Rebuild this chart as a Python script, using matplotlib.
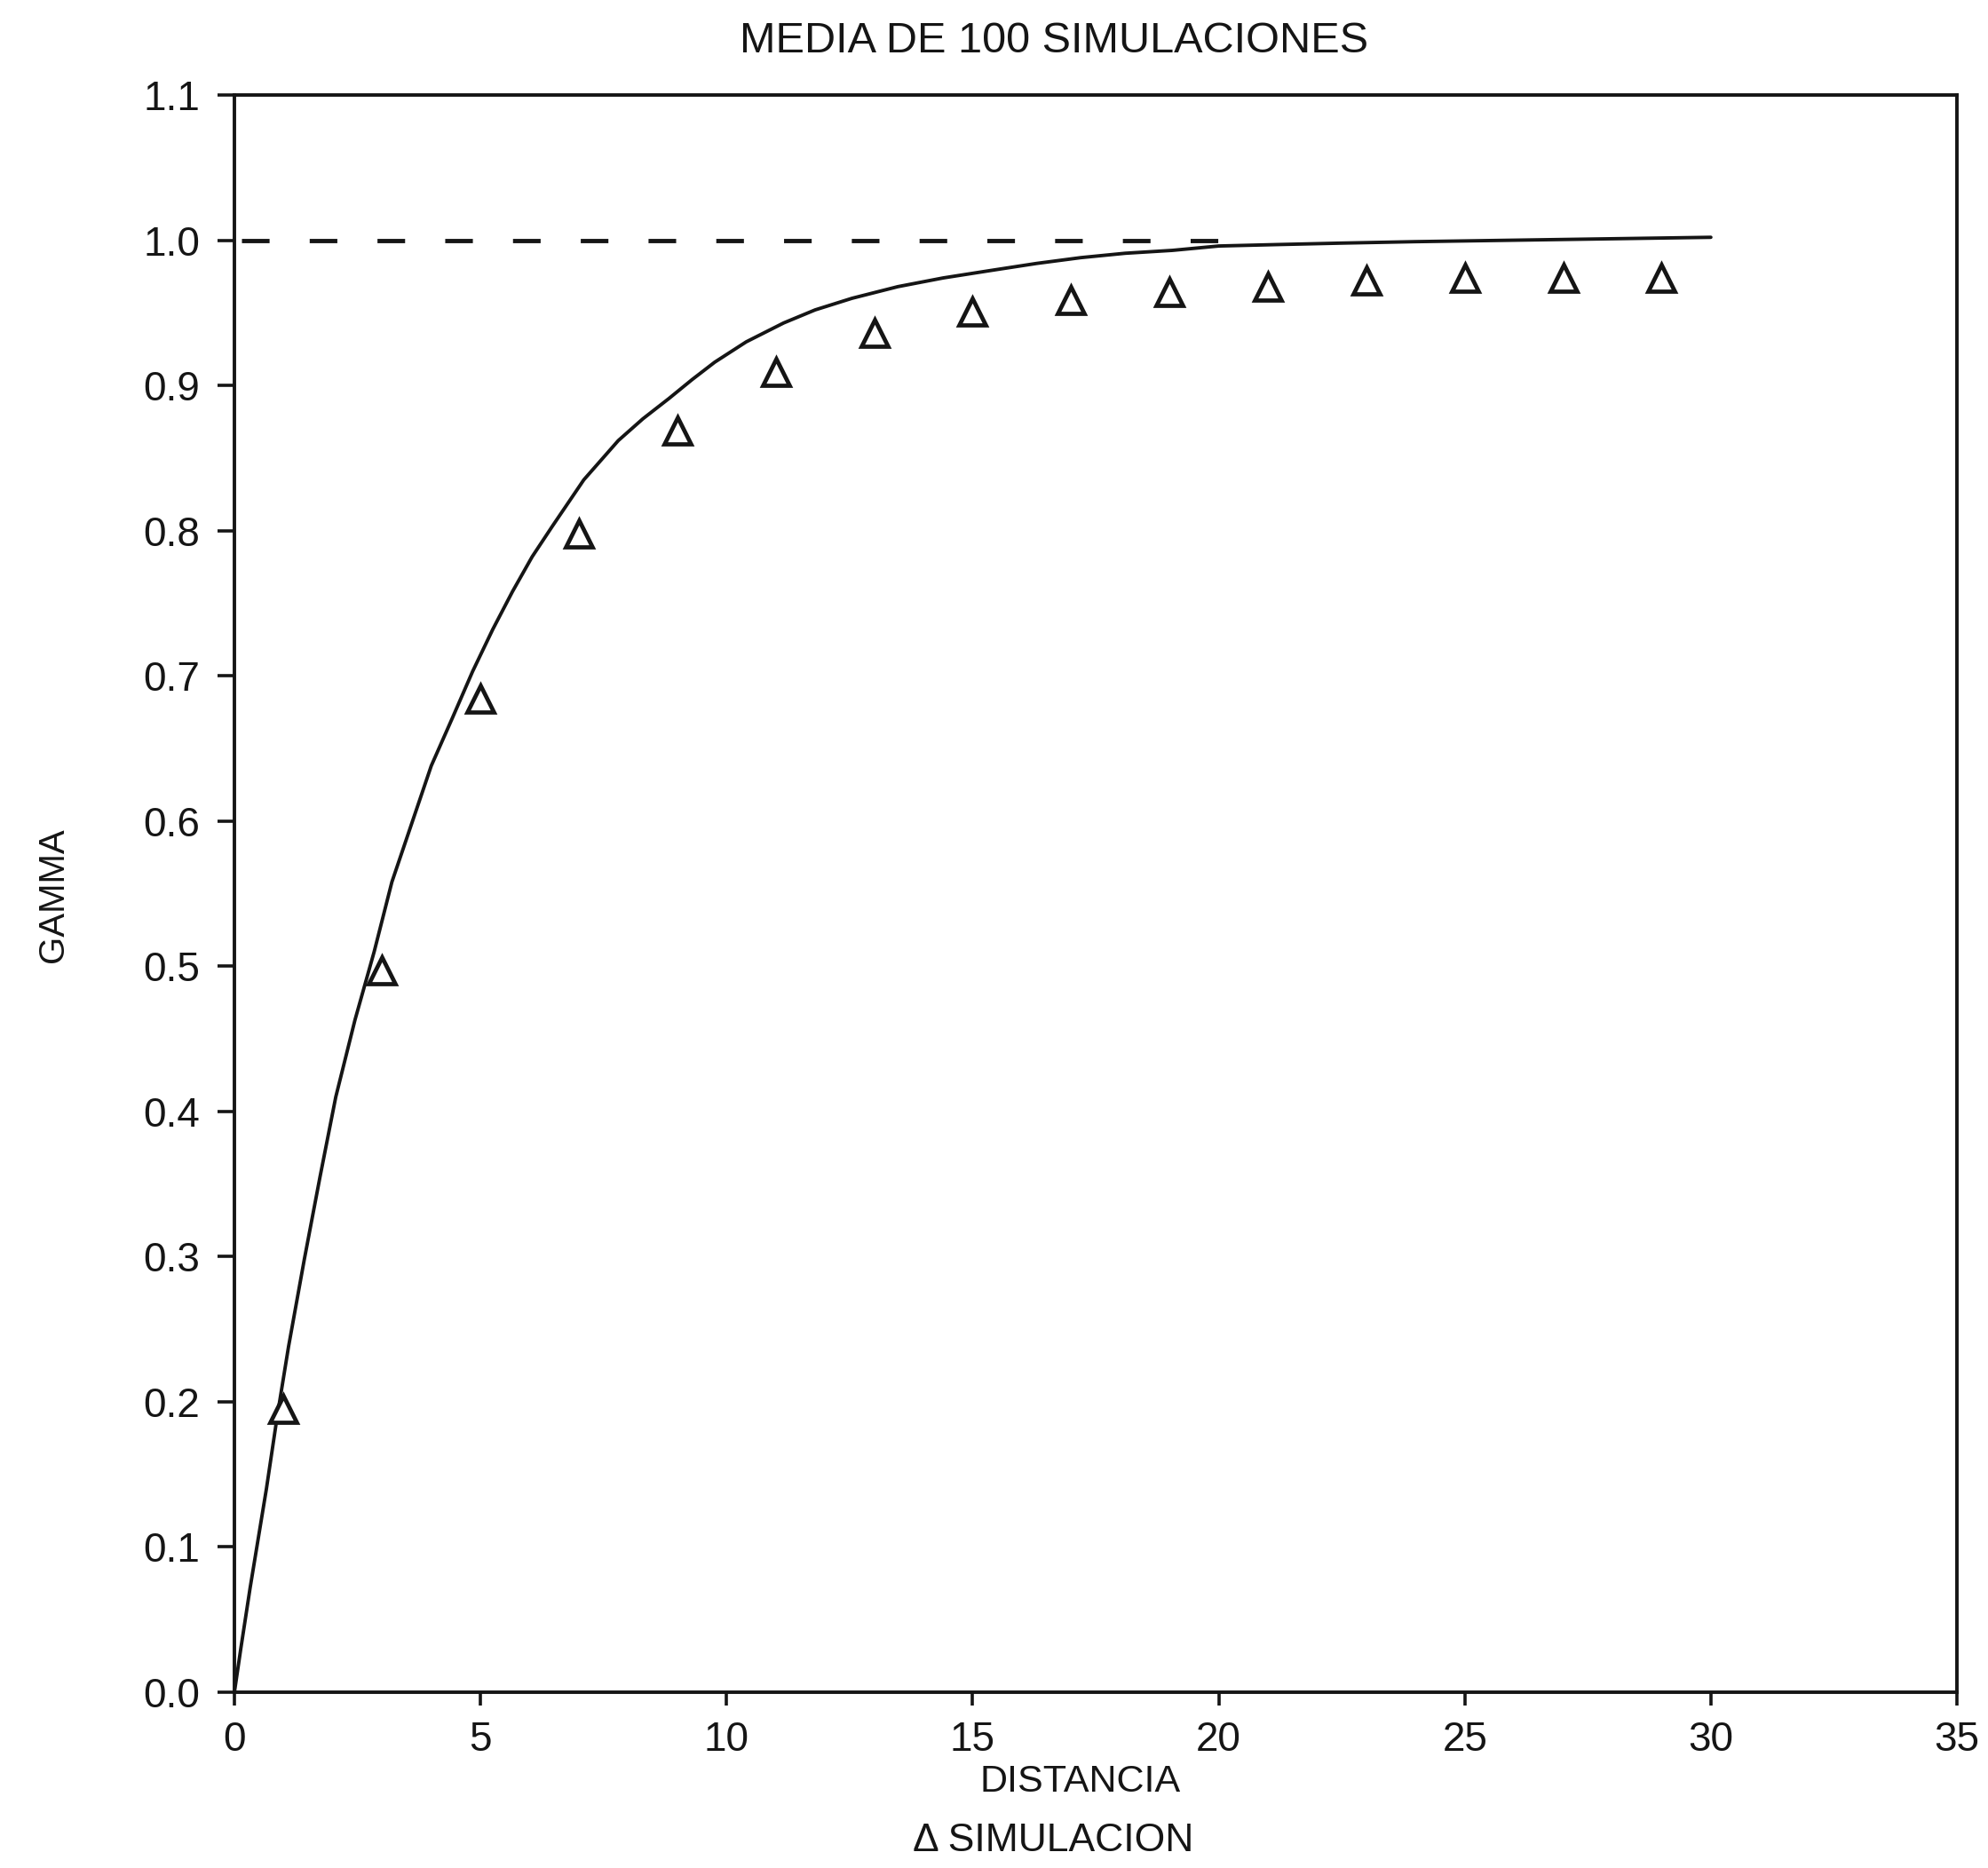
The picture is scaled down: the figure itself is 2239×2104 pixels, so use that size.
import matplotlib
matplotlib.use("Agg")
import matplotlib.pyplot as plt

# ---- data ----
sim_x = [1, 3, 5, 7, 9, 11, 13, 15, 17, 19, 21, 23, 25, 27, 29]
sim_y = [0.195, 0.497, 0.684, 0.798, 0.869, 0.909, 0.936, 0.951,
         0.959, 0.964, 0.968, 0.972, 0.974, 0.974, 0.974]

model_x = [0, 0.13, 0.32, 0.65, 0.87, 1.10, 1.42, 1.74, 2.06, 2.45, 2.84,
           3.2, 3.62, 4.0, 4.43, 4.84, 5.25, 5.65, 6.05, 6.46, 7.1, 7.8,
           8.3, 8.83, 9.3, 9.76, 10.4, 11.16, 11.8, 12.55, 13.48, 14.4,
           15.34, 16.3, 17.2, 18.1, 19.06, 20.0, 21.2, 22.5, 24.0, 26.0,
           28.0, 30.0]
model_y = [0, 0.03, 0.072, 0.14, 0.19, 0.238, 0.298, 0.355, 0.41, 0.463, 0.51,
           0.558, 0.60, 0.638, 0.671, 0.703, 0.732, 0.758, 0.782, 0.803, 0.835,
           0.862, 0.877, 0.891, 0.904, 0.916, 0.93, 0.943, 0.952, 0.960, 0.968,
           0.974, 0.979, 0.984, 0.988, 0.991, 0.993, 0.996, 0.997, 0.998,
           0.999, 1.0, 1.001, 1.002]

sill_x = [0.15, 20]
sill_y = [1.0, 1.0]

x_ticks = [0, 5, 10, 15, 20, 25, 30, 35]
x_labels = ["0", "5", "10", "15", "20", "25", "30", "35"]
y_ticks = [0.0, 0.1, 0.2, 0.3, 0.4, 0.5, 0.6, 0.7, 0.8, 0.9, 1.0, 1.1]
y_labels = ["0.0", "0.1", "0.2", "0.3", "0.4", "0.5", "0.6", "0.7",
            "0.8", "0.9", "1.0", "1.1"]

title = "MEDIA DE 100 SIMULACIONES"
xlabel = "DISTANCIA"
ylabel = "GAMMA"
legend_text = "\u0394 SIMULACION"

plt.rcParams['font.family'] = ['Liberation Sans', 'DejaVu Sans']

W, H = 2239, 2104
fig = plt.figure(figsize=(W / 100, H / 100), dpi=100)
ax = fig.add_axes([264 / W, 1 - 1906 / H, (2204 - 264) / W, (1906 - 107) / H])

ink = "#151515"
ax.plot(model_x, model_y, color=ink, lw=2.8, solid_joinstyle='round',
        solid_capstyle='round')
ax.plot(sill_x, sill_y, color=ink, lw=3.5, dashes=(6.4, 9.3))
ax.plot(sim_x, sim_y, linestyle='none', marker='^', ms=22, mfc='white',
        mec=ink, mew=3.4)

ax.set_xlim(0, 35)
ax.set_ylim(0, 1.1)
ax.set_xticks(x_ticks)
ax.set_xticklabels(x_labels)
ax.set_yticks(y_ticks)
ax.set_yticklabels(y_labels)
for s in ax.spines.values():
    s.set_linewidth(2.8)
    s.set_color(ink)
ax.tick_params(axis='x', direction='out', length=11, width=2.6, colors=ink,
               labelsize=33, pad=12)
ax.tick_params(axis='y', direction='out', length=14, width=2.6, colors=ink,
               labelsize=33, pad=14)

fig.text(0.530, 0.978, title, ha='center', va='center', fontsize=35, color=ink)
fig.text(0.5435, 0.046, xlabel, ha='center', va='center', fontsize=31, color=ink)
fig.text(0.530, 0.0147, legend_text, ha='center', va='center', fontsize=32,
         color=ink)
fig.text(0.027, 0.521, ylabel, ha='center', va='center', rotation=90,
         fontsize=29, color=ink)

fig.savefig("out.png", dpi=100, facecolor='white')
